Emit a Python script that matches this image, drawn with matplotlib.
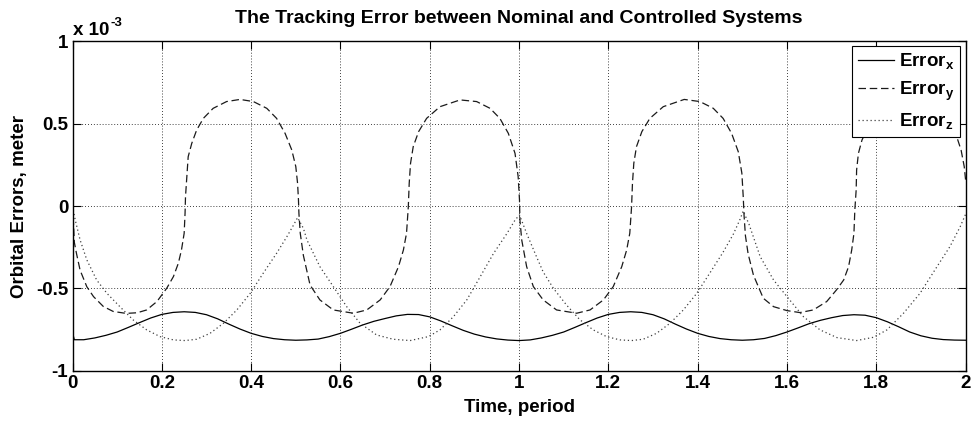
import numpy as np
import matplotlib
matplotlib.use("Agg")
import matplotlib.pyplot as plt

# values, in units of 1e-3 m
t_x = [0.000, 0.004, 0.025, 0.05, 0.075, 0.10, 0.125, 0.15, 0.175, 0.20, 0.225, 0.25,
       0.275, 0.30, 0.325, 0.35, 0.375, 0.40, 0.425, 0.45, 0.475, 0.50,
       0.525, 0.55, 0.575, 0.60, 0.625, 0.65, 0.675, 0.70, 0.725, 0.75, 0.775, 0.80,
       0.825, 0.85, 0.875, 0.90, 0.925, 0.95, 0.975, 1.00,
       1.025, 1.05, 1.075, 1.10, 1.125, 1.15, 1.175, 1.20, 1.225, 1.25, 1.275, 1.30,
       1.325, 1.35, 1.375, 1.40, 1.425, 1.45, 1.475, 1.50,
       1.525, 1.55, 1.575, 1.60, 1.625, 1.65, 1.675, 1.70, 1.725, 1.75, 1.775, 1.80,
       1.825, 1.85, 1.875, 1.90, 1.925, 1.95, 1.975, 2.00]
err_x = [-0.770, -0.812, -0.812, -0.801, -0.785, -0.765, -0.737, -0.708, -0.680, -0.658, -0.646, -0.642,
         -0.646, -0.660, -0.685, -0.717, -0.747, -0.773, -0.792, -0.805, -0.812, -0.815,
         -0.813, -0.808, -0.793, -0.773, -0.748, -0.722, -0.700, -0.683, -0.667, -0.658, -0.659, -0.673,
         -0.698, -0.727, -0.755, -0.778, -0.795, -0.807, -0.814, -0.817,
         -0.813, -0.801, -0.785, -0.765, -0.737, -0.708, -0.680, -0.658, -0.646, -0.642, -0.646, -0.660,
         -0.685, -0.717, -0.747, -0.773, -0.792, -0.805, -0.812, -0.815,
         -0.812, -0.804, -0.787, -0.765, -0.740, -0.714, -0.694, -0.678, -0.665, -0.660, -0.663, -0.678,
         -0.703, -0.733, -0.765, -0.788, -0.803, -0.811, -0.814, -0.815]

t_y = [0.000, 0.002, 0.004, 0.009, 0.017, 0.032, 0.047, 0.069, 0.091, 0.12, 0.145, 0.166,
       0.189, 0.211, 0.226, 0.237, 0.244, 0.250, 0.252, 0.253, 0.256, 0.259, 0.267, 0.278,
       0.293, 0.315, 0.345, 0.375, 0.405, 0.435, 0.457, 0.476, 0.491, 0.500, 0.504, 0.506,
       0.507, 0.510, 0.517, 0.532, 0.554, 0.584, 0.629, 0.659, 0.689, 0.711, 0.730, 0.741,
       0.748, 0.752, 0.754, 0.757, 0.763, 0.775, 0.793, 0.823, 0.868, 0.905, 0.935, 0.957,
       0.976, 0.991, 0.998, 1.001, 1.002, 1.006, 1.017, 1.032, 1.054, 1.084, 1.129, 1.159,
       1.189, 1.211, 1.230, 1.241, 1.248, 1.252, 1.254, 1.257, 1.263, 1.275, 1.293, 1.323,
       1.37, 1.405, 1.435, 1.457, 1.476, 1.491, 1.499, 1.502, 1.504, 1.507, 1.513, 1.525,
       1.547, 1.570, 1.600, 1.629, 1.659, 1.689, 1.711, 1.727, 1.738, 1.745, 1.750, 1.752,
       1.755, 1.756, 1.760, 1.768, 1.780, 1.797, 1.825, 1.87, 1.91, 1.94, 1.962, 1.978,
       1.990, 1.997, 2.000]
err_y = [0.000, -0.10, -0.22, -0.29, -0.39, -0.49, -0.55, -0.61, -0.64, -0.652, -0.648, -0.631,
         -0.580, -0.499, -0.428, -0.347, -0.266, -0.165, -0.044, 0.057, 0.179, 0.300, 0.381, 0.462,
         0.533, 0.594, 0.635, 0.648, 0.635, 0.594, 0.533, 0.442, 0.341, 0.240, 0.138, 0.037,
         -0.044, -0.165, -0.300, -0.480, -0.570, -0.631, -0.651, -0.631, -0.570, -0.489, -0.368, -0.267,
         -0.165, -0.004, 0.138, 0.260, 0.361, 0.452, 0.533, 0.604, 0.645, 0.635, 0.594, 0.533,
         0.442, 0.320, 0.179, 0.037, -0.085, -0.206, -0.368, -0.489, -0.570, -0.631, -0.651, -0.631,
         -0.570, -0.489, -0.368, -0.267, -0.165, -0.004, 0.138, 0.260, 0.361, 0.452, 0.533, 0.604,
         0.648, 0.635, 0.594, 0.533, 0.442, 0.330, 0.200, 0.060, -0.060, -0.180, -0.290, -0.420,
         -0.560, -0.611, -0.635, -0.647, -0.631, -0.580, -0.509, -0.449, -0.368, -0.267, -0.166, -0.024,
         0.098, 0.219, 0.320, 0.401, 0.470, 0.533, 0.600, 0.648, 0.633, 0.590, 0.525, 0.440,
         0.340, 0.240, 0.160]

t_z = [0.000, 0.006, 0.017, 0.032, 0.054, 0.077, 0.106, 0.136, 0.166, 0.196, 0.226, 0.252,
       0.278, 0.308, 0.338, 0.368, 0.398, 0.427, 0.457, 0.480, 0.495, 0.504, 0.517, 0.525,
       0.554, 0.584, 0.614, 0.644, 0.681, 0.718, 0.756, 0.797, 0.823, 0.853, 0.883, 0.913,
       0.943, 0.973, 0.991, 1.001, 1.017, 1.039, 1.054, 1.077, 1.106, 1.136, 1.166, 1.196,
       1.226, 1.252, 1.278, 1.308, 1.338, 1.368, 1.398, 1.427, 1.457, 1.480, 1.495, 1.502,
       1.515, 1.540, 1.570, 1.600, 1.637, 1.674, 1.712, 1.756, 1.794, 1.824, 1.861, 1.898,
       1.936, 1.965, 1.988, 2.000]
err_z = [0.000, -0.084, -0.206, -0.327, -0.449, -0.530, -0.611, -0.692, -0.752, -0.793, -0.813, -0.817,
         -0.809, -0.773, -0.712, -0.631, -0.530, -0.408, -0.287, -0.186, -0.115, -0.070, -0.135, -0.206,
         -0.368, -0.489, -0.611, -0.712, -0.783, -0.809, -0.817, -0.793, -0.752, -0.672, -0.570, -0.429,
         -0.287, -0.166, -0.085, -0.054, -0.166, -0.307, -0.400, -0.500, -0.600, -0.690, -0.752, -0.793,
         -0.813, -0.817, -0.809, -0.773, -0.712, -0.631, -0.530, -0.408, -0.280, -0.170, -0.080, -0.030,
         -0.110, -0.307, -0.449, -0.550, -0.672, -0.752, -0.799, -0.817, -0.797, -0.752, -0.651, -0.530,
         -0.368, -0.246, -0.125, -0.050]

xticks = [0, 0.2, 0.4, 0.6, 0.8, 1, 1.2, 1.4, 1.6, 1.8, 2]
xtick_labels = ["0", "0.2", "0.4", "0.6", "0.8", "1", "1.2", "1.4", "1.6", "1.8", "2"]
yticks = [-1, -0.5, 0, 0.5, 1]
ytick_labels = ["-1", "-0.5", "0", "0.5", "1"]

plt.rcParams['font.family'] = ['Liberation Sans', 'DejaVu Sans']
plt.rcParams['font.weight'] = 'bold'
plt.rcParams['mathtext.fontset'] = 'custom'
plt.rcParams['mathtext.rm'] = 'Liberation Sans:bold'
plt.rcParams['mathtext.it'] = 'Liberation Sans:bold'
plt.rcParams['mathtext.bf'] = 'Liberation Sans:bold'

fsz = 13.5

fig = plt.figure(figsize=(9.71, 4.22), dpi=100)
ax = fig.add_axes([0.0747, 0.1216, 0.9197, 0.7801])

ax.plot(t_x, err_x, color='k', lw=0.9, label=r'Error$_{x}$')
ax.plot(t_y, err_y, color='0.1', lw=0.9, linestyle=(0, (6, 3)), label=r'Error$_{y}$')
ax.plot(t_z, err_z, color='0.25', lw=0.9, linestyle=(0, (1, 2.2)), label=r'Error$_{z}$')

ax.set_xlim(0, 2)
ax.set_ylim(-1, 1)
ax.set_xticks(xticks)
ax.set_xticklabels(xtick_labels, fontsize=fsz, fontweight='bold')
ax.set_yticks(yticks)
ax.set_yticklabels(ytick_labels, fontsize=fsz, fontweight='bold')
ax.tick_params(direction='in', top=True, right=True, length=6, width=0.8, pad=3)
ax.grid(True, color='k', linestyle=(0, (1, 2.5)), lw=0.6)
for sp in ax.spines.values():
    sp.set_linewidth(1.0)

ax.set_title('The Tracking Error between Nominal and Controlled Systems',
             fontsize=14, fontweight='bold', pad=13)
ax.set_xlabel('Time, period', fontsize=fsz, fontweight='bold', labelpad=5)
ax.set_ylabel('Orbital Errors, meter', fontsize=fsz, fontweight='bold', labelpad=6)

# MATLAB-style exponent label above the y axis
fig.text(73 / 971, 1 - 35 / 422, 'x 10', fontsize=fsz, fontweight='bold',
         ha='left', va='baseline')
fig.text(110 / 971, 1 - 26 / 422, '-3', fontsize=9.5, fontweight='bold',
         ha='left', va='baseline')

leg = ax.legend(loc='upper right', bbox_to_anchor=(0.9938, 0.987), borderaxespad=0,
                fancybox=False, framealpha=1, edgecolor='k', fontsize=fsz,
                handlelength=1.9, handletextpad=0.3, borderpad=0.3, labelspacing=0.45)
leg.get_frame().set_linewidth(0.8)

plt.savefig('out.png', dpi=100)
